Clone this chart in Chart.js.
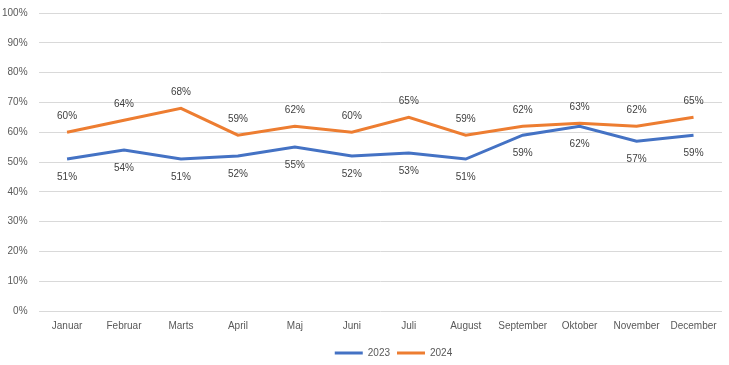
<!DOCTYPE html>
<html><head><meta charset="utf-8">
<script src="https://cdn.jsdelivr.net/npm/chart.js@4/dist/chart.umd.min.js"></script>
<style>html,body{margin:0;padding:0;background:#fff}</style>
</head><body>
<canvas id="c" width="729" height="365"></canvas>
<script>
const months = ["Januar","Februar","Marts","April","Maj","Juni","Juli","August","September","Oktober","November","December"];
const series2023 = [51,54,51,52,55,52,53,51,59,62,57,59];
const series2024 = [60,64,68,59,62,60,65,59,62,63,62,65];
const seriesNames = ["2023","2024"];
const yTicks = [0,10,20,30,40,50,60,70,80,90,100];

const FONT = "'Liberation Sans', Arial, sans-serif";

const labelPlugin = {
  id: 'dl',
  afterLayout(chart) {
    chart.legend.left += 37;
    chart.legend.right += 37;
  },
  afterDatasetsDraw(chart) {
    const ctx = chart.ctx;
    ctx.save();
    ctx.font = "10px " + FONT;
    ctx.fillStyle = "#404040";
    ctx.textAlign = "center";
    ctx.textBaseline = "middle";
    chart.data.datasets.forEach((ds, i) => {
      const meta = chart.getDatasetMeta(i);
      meta.data.forEach((pt, j) => {
        const off = i === 1 ? -16 : 18;
        ctx.fillText(ds.data[j] + "%", pt.x, pt.y + off);
      });
    });
    ctx.restore();
  }
};

new Chart(document.getElementById('c'), {
  type: 'line',
  data: {
    labels: months,
    datasets: [
      { label: seriesNames[0], data: series2023, borderColor: '#4472C4', backgroundColor: '#4472C4', borderWidth: 3, pointRadius: 0, tension: 0 },
      { label: seriesNames[1], data: series2024, borderColor: '#ED7D31', backgroundColor: '#ED7D31', borderWidth: 3, pointRadius: 0, tension: 0 }
    ]
  },
  options: {
    responsive: false,
    animation: false,
    layout: { padding: { top: 13, right: 7, left: -9, bottom: -3 } },
    plugins: {
      tooltip: { enabled: false },
      legend: {
        position: 'bottom',
        labels: {
          font: { family: FONT, size: 10 },
          color: '#595959',
          boxWidth: 28,
          boxHeight: 3,
          padding: 7,
          generateLabels(chart) {
            return chart.data.datasets.map((ds, i) => ({
              text: ds.label, fillStyle: ds.borderColor, strokeStyle: ds.borderColor,
              lineWidth: 0, datasetIndex: i, fontColor: '#595959'
            }));
          }
        }
      }
    },
    scales: {
      x: {
        offset: true,
        grid: { display: false, drawTicks: false },
        border: { display: false },
        ticks: { font: { family: FONT, size: 10 }, color: '#595959', maxRotation: 0, autoSkip: false, padding: 9 }
      },
      y: {
        min: 0, max: 100,
        afterBuildTicks(axis) { axis.ticks = yTicks.map(v => ({ value: v })); },
        afterFit(axis) { axis.paddingTop = 0; },
        grid: { color: '#D9D9D9', lineWidth: 1, drawTicks: false },
        border: { display: false },
        ticks: { font: { family: FONT, size: 10 }, color: '#595959', padding: 11, callback: v => v + '%' }
      }
    }
  },
  plugins: [labelPlugin]
});
</script>
</body></html>
